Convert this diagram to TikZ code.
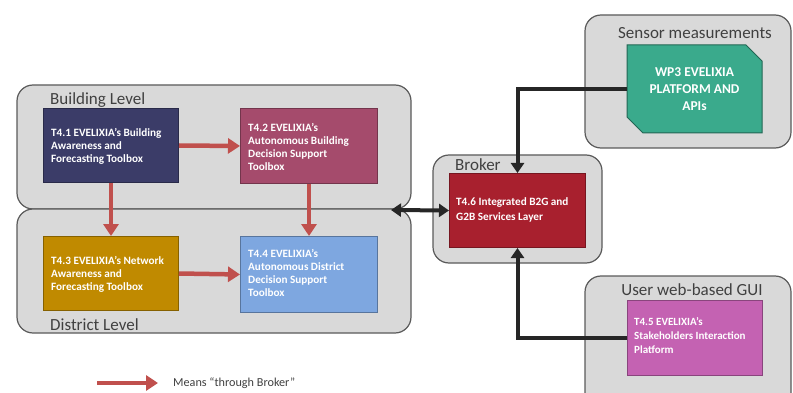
\documentclass[tikz,border=0pt]{standalone}
\usepackage{fontspec}
\setmainfont{Carlito}
\usetikzlibrary{arrows.meta,shapes.misc}
\definecolor{contfill}{HTML}{D9D9D9}
\definecolor{contdraw}{HTML}{5A5A5A}
\definecolor{labelgray}{HTML}{404040}
\definecolor{cnavy}{HTML}{3B3C68}
\definecolor{cmaroon}{HTML}{A54B6C}
\definecolor{cgold}{HTML}{C08A00}
\definecolor{cblue}{HTML}{7EA7E0}
\definecolor{cred}{HTML}{A8202E}
\definecolor{cteal}{HTML}{3AAA8C}
\definecolor{cmag}{HTML}{C462B2}
\definecolor{rarrow}{HTML}{C0504D}
\definecolor{barrow}{HTML}{262626}
\tikzset{
  container/.style={draw=contdraw, fill=contfill, line width=1.2pt, rounded corners=16pt},
  contlabel/.style={font=\fontsize{17}{19}\selectfont, text=labelgray, inner sep=0pt},
  taskbox/.style={draw=#1!70!black, fill=#1, line width=1pt, anchor=north west, inner sep=0pt},
  tasktext/.style={anchor=west, text=white, font=\fontsize{11.2}{13}\selectfont\bfseries, align=left, inner sep=0pt},
  redarrow/.style={draw=rarrow, line width=4.5pt, -{Triangle[length=12pt,width=15pt]}},
  blackarrow/.style={draw=barrow, line width=4pt, -{Triangle[length=10pt,width=13pt]}},
}
\begin{document}
\begin{tikzpicture}[x=1pt,y=-1pt]
\useasboundingbox (0,0) rectangle (793,393);
% containers
\draw[container] (17,85) rectangle (411,209);
\draw[container] (17,209) rectangle (411,333);
\draw[container] (433,155) rectangle (602,263);
\draw[container] (585,15) rectangle (791,148);
\draw[container] (585,276) rectangle (791,410);
% container labels
\node[contlabel, anchor=west] (lbuild) at (50,100) {Building Level};
\node[contlabel, anchor=west] (ldist) at (50,325) {District Level};
\node[contlabel, anchor=west] (lbrok) at (455,165) {Broker};
\node[contlabel, anchor=center] (lsens) at (695,33) {Sensor measurements};
\node[contlabel, anchor=center] (lgui) at (692,290) {User web-based GUI};
% task boxes
\node[taskbox=cnavy, minimum width=135pt, minimum height=74pt] (t41) at (43,108) {};
\node[tasktext] (t41txt) at (51,146) {T4.1 EVELIXIA’s Building\\Awareness and\\Forecasting Toolbox};
\node[taskbox=cmaroon, minimum width=137pt, minimum height=75pt] (t42) at (240,108) {};
\node[tasktext] (t42txt) at (248,147) {T4.2 EVELIXIA’s\\Autonomous Building\\Decision Support\\Toolbox};
\node[taskbox=cgold, minimum width=135pt, minimum height=74pt] (t43) at (43,236) {};
\node[tasktext] (t43txt) at (51,274) {T4.3 EVELIXIA’s Network\\Awareness and\\Forecasting Toolbox};
\node[taskbox=cblue, minimum width=137pt, minimum height=76pt] (t44) at (240,236) {};
\node[tasktext] (t44txt) at (248,273) {T4.4 EVELIXIA’s\\Autonomous District\\Decision Support\\Toolbox};
\node[taskbox=cred, minimum width=136pt, minimum height=74pt] (t46) at (449,173) {};
\node[tasktext, font=\fontsize{11.2}{14.5}\selectfont\bfseries] (t46txt) at (456,210) {T4.6 Integrated B2G and\\G2B Services Layer};
\node[draw=cteal!60!black, fill=cteal, line width=1pt, chamfered rectangle, chamfered rectangle corners={north east,south west}, chamfered rectangle xsep=8pt, chamfered rectangle ysep=8pt, minimum width=135pt, minimum height=88pt, inner sep=0pt, text=white, font=\fontsize{13.5}{17}\selectfont\bfseries, align=center] (wp3) at (694.5,89) {WP3 EVELIXIA\\PLATFORM AND\\APIs};
\node[taskbox=cmag, minimum width=135pt, minimum height=75pt] (t45) at (627,300) {};
\node[tasktext, font=\fontsize{11}{14}\selectfont\bfseries] (t45txt) at (634,336) {T4.5 EVELIXIA’s\\Stakeholders Interaction\\Platform};
% red arrows
\draw[redarrow] (t41.east) -- (t42.west);
\draw[redarrow] (t43.east) -- (t44.west);
\draw[redarrow] (t41.south) -- (t43.north);
\draw[redarrow] (t42.south) -- (t44.north);
% black arrows
\coordinate (lvl) at (391,210);
\draw[blackarrow, {Triangle[length=10pt,width=13pt]}-{Triangle[length=10pt,width=13pt]}] (lvl) -- (t46.west);
\draw[blackarrow] (wp3.west) -| (t46.north);
\draw[blackarrow] (t45.west) -| (t46.south);
% legend
\coordinate (lega) at (97,383);
\coordinate (legb) at (158,383);
\draw[redarrow] (lega) -- (legb);
\node[anchor=west, font=\fontsize{12.2}{14}\selectfont, text=labelgray, inner sep=0pt] (legt) at (173,383) {Means “through Broker”};
\end{tikzpicture}
\end{document}
